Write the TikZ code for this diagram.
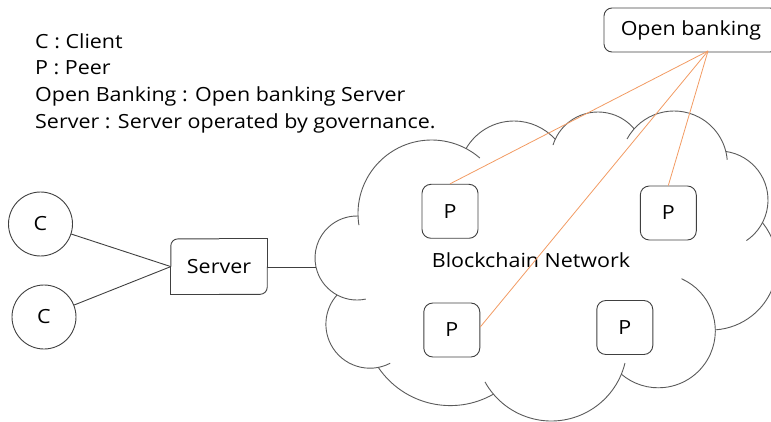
\documentclass[tikz,border=0pt]{standalone}
\usepackage{fontspec}
\setmainfont{Open Sans}[FakeStretch=1.1]
\definecolor{linegray}{HTML}{404040}
\definecolor{cloudgray}{HTML}{5A5A5A}
\definecolor{linkorange}{HTML}{F29B63}

% one puff of the cloud outline: centre x, centre y, radius, start angle, end angle
\newcommand\cloudarc[5]{%
  \draw[outline] ([shift={(#4:#3)}]#1,#2) arc[start angle=#4, end angle=#5, radius=#3];}

\begin{document}
\begin{tikzpicture}[x=1pt, y=-1pt,
  every node/.style={font=\fontsize{19.5}{23}\selectfont, text=black, inner sep=0pt},
  outline/.style={draw=cloudgray, line width=0.9pt},
  wire/.style={draw=linegray, line width=0.9pt},
  link/.style={draw=linkorange, line width=0.8pt},
  client/.style={circle, draw=linegray, line width=0.9pt, minimum size=64pt},
  peer/.style={draw=linegray, line width=0.9pt, rounded corners=9pt,
               minimum width=56pt, minimum height=54pt},
  obox/.style={draw=linegray, line width=0.9pt, rounded corners=8pt,
               minimum width=174pt, minimum height=44pt},
  legendline/.style={anchor=base west}
]
\useasboundingbox (0,0) rectangle (771,422);
\clip (0,0) rectangle (771,422);

% legend
\node[legendline] (lg1) at (35,48.6) {C : Client};
\node[legendline] (lg2) at (35,74.2) {P : Peer};
\node[legendline] (lg3) at (35,101.6) {Open Banking : Open banking Server};
\node[legendline] (lg4) at (35,128.2) {Server : Server operated by governance.};

% blockchain cloud
\cloudarc{357}{258}{42}{78}{271.4}
\cloudarc{431.6}{213.6}{73.6}{171}{311}
\cloudarc{514}{176.5}{55.5}{210.2}{318}
\cloudarc{598}{159.2}{47.2}{197.5}{320}
\cloudarc{674}{164.4}{53.4}{208.4}{355}
\cloudarc{719}{200}{49}{-82}{56}
\cloudarc{711}{264}{66}{-38.8}{86.3}
\cloudarc{658.3}{330.8}{57}{-66}{130.4}
\cloudarc{551.3}{345.2}{75.8}{13.6}{151}
\cloudarc{450.3}{318.6}{87}{60.3}{145.9}
\cloudarc{369.9}{324.2}{44}{62.6}{221.7}
\coordinate (cloudL) at (316.1,267.7);
\node[anchor=base] (net) at (531,267.4) {Blockchain Network};

% peers
\node[peer] (p1) at (450,211.3) {P};
\node[peer] (p2) at (668.3,213) {P};
\node[peer] (p3) at (451.8,330) {P};
\node[peer] (p4) at (624.8,327.5) {P};

% clients and server
\node[client] (c1) at (40.5,224) {C};
\node[client] (c2) at (44,317) {C};
\node[minimum width=96pt, minimum height=55pt] (srv) at (219,266.6) {Server};
\draw[wire] (srv.north) -- (srv.north east) -- (srv.east);
\draw[wire, rounded corners=7pt] (srv.east) -- (srv.south east) -- (srv.south);
\draw[wire] (srv.south) -- (srv.south west) -- (srv.west);
\draw[wire, rounded corners=7pt] (srv.west) -- (srv.north west) -- (srv.north);

\draw[wire] (c1) -- (srv.west);
\draw[wire] (c2) -- (srv.west);
\draw[wire] (srv.east |- cloudL) -- (cloudL);

% open banking server and its links to peers
\node[obox] (ob) at (691,30) {Open banking};
\coordinate (obport) at (708,51);
\draw[link] (obport) -- (p1.north);
\draw[link] (obport) -- (p2.north);
\draw[link] (obport) -- ([yshift=3pt]p3.east);
\end{tikzpicture}
\end{document}
